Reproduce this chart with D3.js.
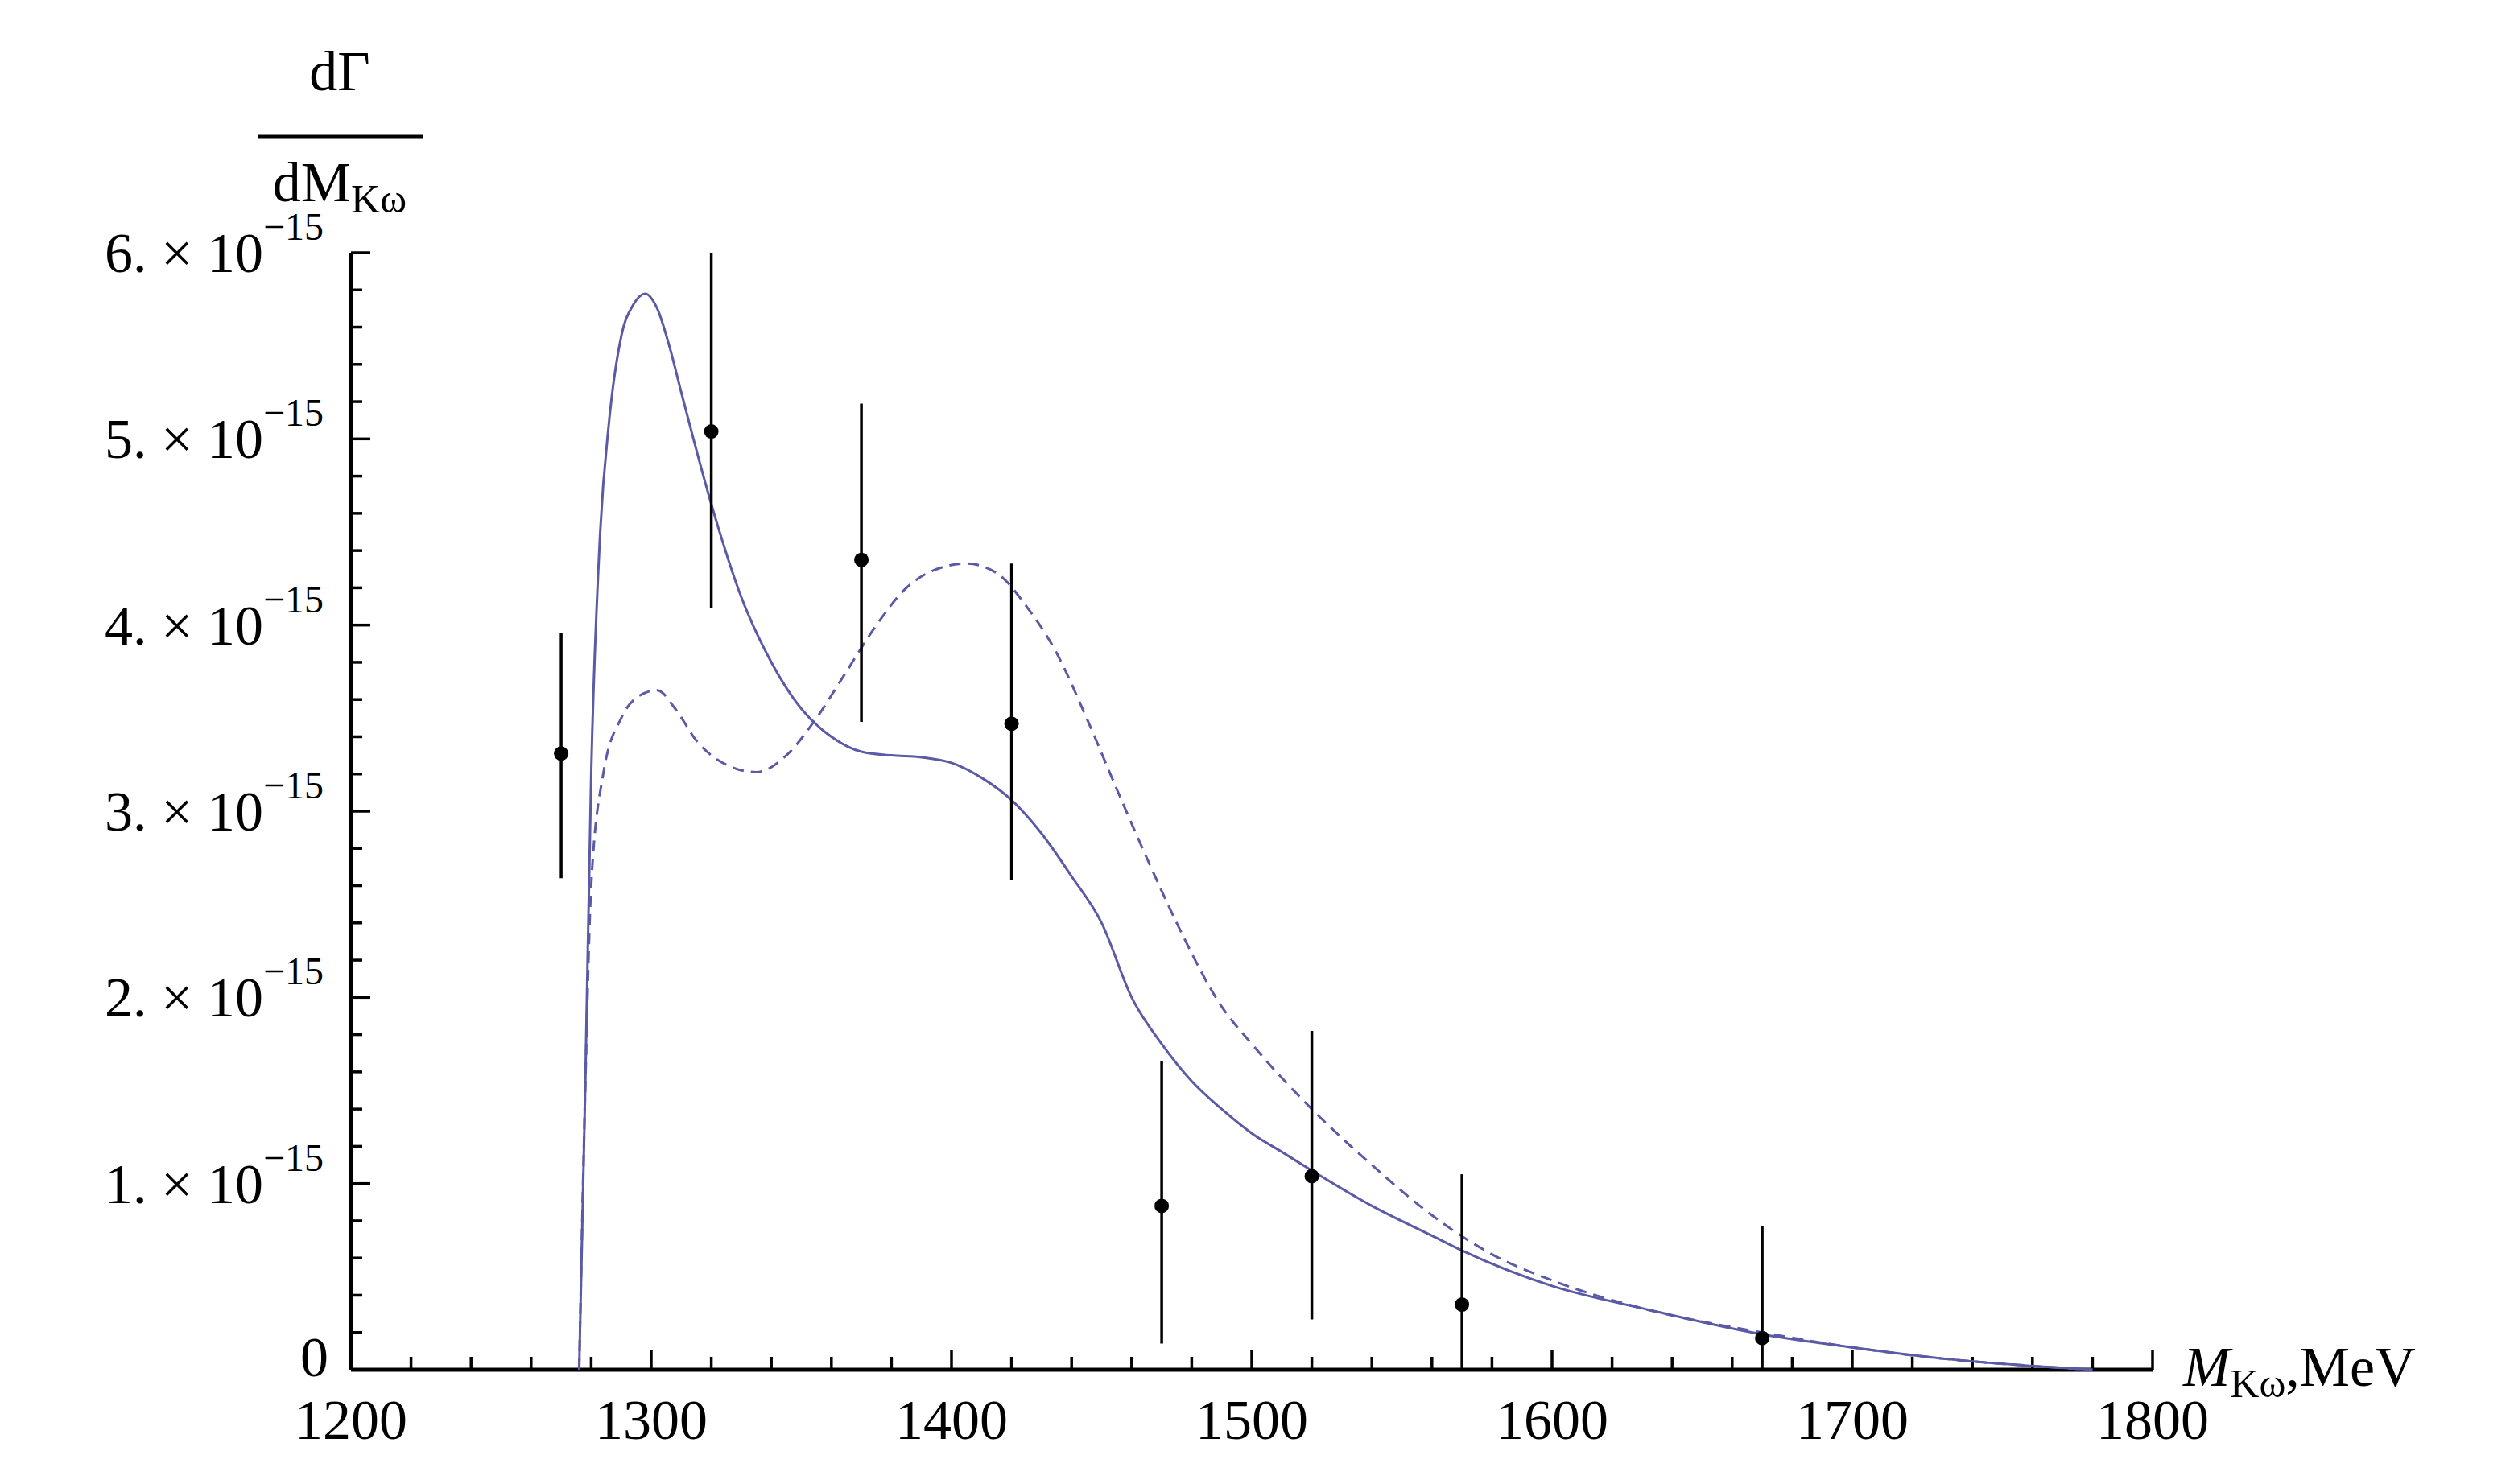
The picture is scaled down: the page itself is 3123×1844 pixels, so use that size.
<!DOCTYPE html>
<html>
<head>
<meta charset="utf-8">
<script src="https://cdn.jsdelivr.net/npm/d3@7"></script>
<style>
body { margin: 0; background: #fff; }
text { font-family: "Liberation Serif", "DejaVu Serif", serif; fill: #000; }
</style>
</head>
<body>
<div id="chart"></div>
<script>
// experimental points (MeV, units of 1e-15)
var pointMass = [1270, 1320, 1370, 1420, 1470, 1520, 1570, 1670];
var pointValue = [3.31, 5.04, 4.35, 3.47, 0.88, 1.04, 0.35, 0.17];
var pointLow = [2.64, 4.09, 3.48, 2.63, 0.14, 0.27, 0.0, 0.0];
var pointHigh = [3.96, 6.0, 5.19, 4.33, 1.66, 1.82, 1.05, 0.77];

// solid curve
var solidMass = [1276, 1278, 1280, 1283, 1286, 1290, 1294, 1298, 1302, 1306, 1310, 1320, 1330, 1340, 1350, 1360, 1370, 1380, 1390, 1400, 1410, 1420, 1430, 1440, 1450, 1460, 1470, 1480, 1490, 1500, 1510, 1520, 1540, 1560, 1570, 1600, 1630, 1670, 1700, 1730, 1760, 1780];
var solidValue = [0, 1.5, 3.2, 4.5, 5.1, 5.55, 5.72, 5.78, 5.7, 5.5, 5.25, 4.65, 4.15, 3.8, 3.55, 3.4, 3.32, 3.3, 3.29, 3.26, 3.18, 3.06, 2.88, 2.65, 2.4, 2.0, 1.75, 1.55, 1.4, 1.27, 1.17, 1.07, 0.88, 0.72, 0.64, 0.45, 0.33, 0.19, 0.12, 0.06, 0.02, 0];

// dashed curve
var dashMass = [1276, 1278, 1280, 1284, 1290, 1296, 1302, 1308, 1315, 1325, 1335, 1345, 1355, 1365, 1375, 1385, 1395, 1405, 1415, 1425, 1435, 1445, 1455, 1465, 1475, 1490, 1500, 1520, 1540, 1560, 1580, 1600, 1630, 1670, 1700, 1730, 1760, 1780];
var dashValue = [0, 1.5, 2.6, 3.2, 3.5, 3.62, 3.65, 3.55, 3.38, 3.25, 3.21, 3.3, 3.5, 3.75, 4.0, 4.2, 4.3, 4.33, 4.28, 4.1, 3.85, 3.5, 3.12, 2.75, 2.4, 1.95, 1.75, 1.4, 1.1, 0.83, 0.62, 0.48, 0.33, 0.2, 0.12, 0.06, 0.02, 0];

var xTicks = [1200, 1300, 1400, 1500, 1600, 1700, 1800];
var yTicks = [0, 1, 2, 3, 4, 5, 6];

var W = 3123, H = 1844;
var plotLeft = 436, plotRight = 2674, plotTop = 314, plotBottom = 1702;
var lineColor = "#5a5aa6";

var svg = d3.select("#chart").append("svg").attr("width", W).attr("height", H);

var x = d3.scaleLinear().domain([1200, 1800]).range([plotLeft, plotRight]);
var y = d3.scaleLinear().domain([0, 6]).range([plotBottom, plotTop]);

// axes
var axes = svg.append("g").attr("stroke", "#000");
axes.append("line").attr("x1", plotLeft).attr("x2", plotRight).attr("y1", plotBottom).attr("y2", plotBottom).attr("stroke-width", 5);
axes.append("line").attr("x1", plotLeft).attr("x2", plotLeft).attr("y1", plotTop).attr("y2", plotBottom).attr("stroke-width", 5);

d3.range(1200, 1801, 20).forEach(function(v) {
    var major = v % 100 === 0;
    axes.append("line").attr("x1", x(v)).attr("x2", x(v))
        .attr("y1", plotBottom).attr("y2", plotBottom - (major ? 24 : 16)).attr("stroke-width", 3.5);
});
d3.range(0, 30.5, 1).forEach(function(k) {
    var v = k * 0.2;
    var major = k % 5 === 0;
    axes.append("line").attr("x1", plotLeft).attr("x2", plotLeft + (major ? 24 : 14))
        .attr("y1", y(v)).attr("y2", y(v)).attr("stroke-width", 3.5);
});

svg.selectAll(".xl").data(xTicks).enter().append("text")
    .attr("x", function(d) { return x(d); }).attr("y", 1788)
    .attr("text-anchor", "middle").attr("font-size", 70).text(function(d) { return d; });

yTicks.forEach(function(d) {
    if (d === 0) {
        svg.append("text").attr("x", 408).attr("y", y(0) + 8).attr("text-anchor", "end")
            .attr("font-size", 70).text("0");
        return;
    }
    var t = svg.append("text").attr("x", 402).attr("y", y(d) + 24).attr("text-anchor", "end").attr("font-size", 70);
    t.append("tspan").text(d + ". \u00d7 10");
    t.append("tspan").attr("dy", -40).attr("font-size", 48).text("\u221215");
});

// y label
svg.append("text").attr("x", 422).attr("y", 112).attr("text-anchor", "middle").attr("font-size", 70).text("d\u0393");
svg.append("line").attr("x1", 320).attr("x2", 526).attr("y1", 170).attr("y2", 170).attr("stroke", "#000").attr("stroke-width", 5);
var yl = svg.append("text").attr("x", 422).attr("y", 250).attr("text-anchor", "middle").attr("font-size", 70);
yl.append("tspan").text("dM");
yl.append("tspan").attr("dy", 14).attr("font-size", 50).text("K\u03c9");

// x label
var xl = svg.append("text").attr("x", 2712).attr("y", 1722).attr("font-size", 70);
xl.append("tspan").attr("font-style", "italic").text("M");
xl.append("tspan").attr("dy", 14).attr("font-size", 50).text("K\u03c9");
xl.append("tspan").attr("dy", -14).text(",MeV");

// curves
var line = d3.line().x(function(d) { return x(d[0]); }).y(function(d) { return y(d[1]); }).curve(d3.curveMonotoneX);
svg.append("path").datum(d3.zip(solidMass, solidValue)).attr("d", line)
    .attr("fill", "none").attr("stroke", lineColor).attr("stroke-width", 3);
svg.append("path").datum(d3.zip(dashMass, dashValue)).attr("d", line)
    .attr("fill", "none").attr("stroke", lineColor).attr("stroke-width", 3).attr("stroke-dasharray", "14,9");

// data points with error bars
var pts = svg.append("g");
pointMass.forEach(function(m, i) {
    pts.append("line").attr("x1", x(m)).attr("x2", x(m)).attr("y1", y(pointLow[i])).attr("y2", y(pointHigh[i]))
        .attr("stroke", "#000").attr("stroke-width", 3.5);
    pts.append("circle").attr("cx", x(m)).attr("cy", y(pointValue[i])).attr("r", 9).attr("fill", "#000");
});
</script>
</body>
</html>
